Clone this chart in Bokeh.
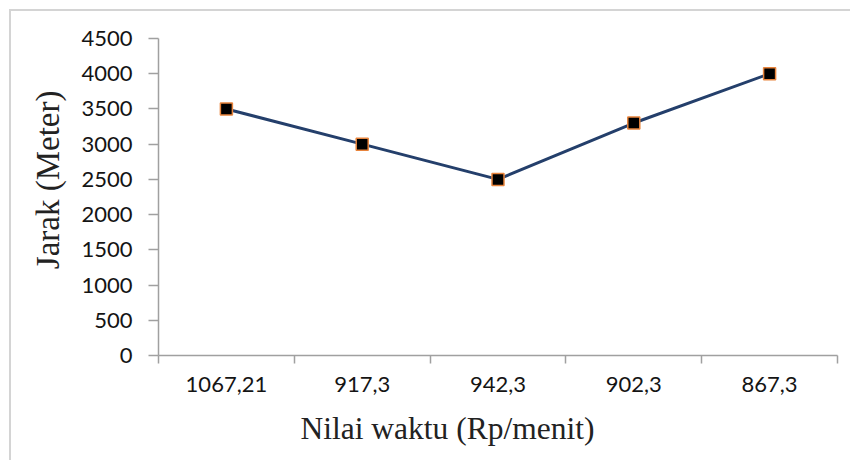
from bokeh.plotting import figure
from bokeh.models import FixedTicker, Range1d, Title, ColumnDataSource
from bokeh.embed import file_html
from bokeh.resources import INLINE

categories = ["1067,21", "917,3", "942,3", "902,3", "867,3"]
jarak = [3500, 3000, 2500, 3300, 4000]
y_ticks = [0, 500, 1000, 1500, 2000, 2500, 3000, 3500, 4000, 4500]
x_title = "Nilai waktu (Rp/menit)"
y_title = "Jarak (Meter)"

x_pos = [i + 0.5 for i in range(len(categories))]
src = ColumnDataSource(dict(x=x_pos, y=jarak))

p = figure(width=841, height=451, output_backend="svg", toolbar_location=None,
           x_range=Range1d(0, len(categories)), y_range=Range1d(0, 4500),
           min_border_left=147, min_border_right=15, min_border_top=27, min_border_bottom=107,
           margin=(9, 0, 0, 9))
p.styles = {"border-top": "2px solid #d4d4d4", "border-left": "2px solid #d4d4d4"}
p.outline_line_color = None
p.xgrid.grid_line_color = None
p.ygrid.grid_line_color = None
p.background_fill_color = "white"
p.border_fill_color = "white"

p.line("x", "y", source=src, line_color="#243f6b", line_width=3)
p.scatter("x", "y", source=src, marker="square", size=12, fill_color="black",
          line_color="#e8843c", line_width=1.5)

# x axis
xa = p.xaxis[0]
xa.ticker = FixedTicker(ticks=x_pos, minor_ticks=list(range(len(categories) + 1)))
xa.major_label_overrides = {x: c for x, c in zip(x_pos, categories)}
xa.major_tick_line_color = None
xa.major_tick_out = 7
xa.major_tick_in = 0
xa.minor_tick_out = 8
xa.minor_tick_in = 0
xa.minor_tick_line_color = "#a0a0a0"
xa.minor_tick_line_width = 1.5
xa.axis_line_color = "#a0a0a0"
xa.axis_line_width = 1.5
xa.major_label_text_font = "Lato"
xa.major_label_text_font_size = "22px"
xa.major_label_text_color = "#141414"
xa.major_label_standoff = 13

# y axis
ya = p.yaxis[0]
ya.ticker = FixedTicker(ticks=y_ticks, minor_ticks=[])
ya.major_tick_out = 10
ya.major_tick_in = 0
ya.major_tick_line_color = "#a0a0a0"
ya.major_tick_line_width = 1.5
ya.axis_line_color = "#a0a0a0"
ya.axis_line_width = 1.5
ya.major_label_text_font = "Lato"
ya.major_label_text_font_size = "22px"
ya.major_label_text_color = "#141414"
ya.major_label_standoff = 16

# axis titles
p.add_layout(Title(text=x_title, text_font="Liberation Serif", text_font_size="31.5px",
                   text_font_style="normal", text_color="#222222",
                   align="left", offset=142, standoff=28), "below")
p.add_layout(Title(text=y_title, text_font="Liberation Serif", text_font_size="33px",
                   text_font_style="normal", text_color="#222222",
                   align="right", offset=52, standoff=26), "left")

open("out.html", "w").write(file_html(p, INLINE))
